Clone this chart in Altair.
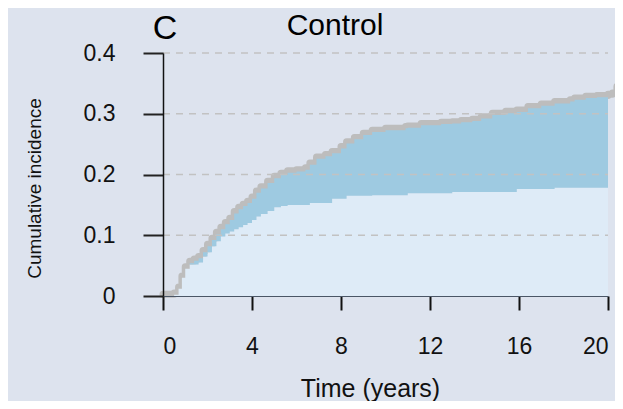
import altair as alt
import pandas as pd

# ---- data ----
times = [0.0, 0.5, 0.7, 0.85, 1.0, 1.2, 1.4, 1.6, 1.8, 2.0, 2.2, 2.4, 2.6, 2.8, 3.0,
         3.2, 3.4, 3.6, 3.8, 4.0, 4.2, 4.4, 4.7, 5.0, 5.3, 5.6, 6.0, 6.4, 6.6, 6.9,
         7.3, 7.6, 8.0, 8.25, 8.6, 9.0, 9.4, 10.0, 10.9, 11.0, 11.6, 12.5, 13.0, 13.4,
         13.9, 14.3, 14.8, 15.4, 15.9, 16.4, 17.0, 17.6, 18.3, 18.5, 19.0, 19.5, 20.0]
lower = [0.0, 0.002, 0.012, 0.030, 0.045, 0.052, 0.052, 0.055, 0.065, 0.072, 0.082, 0.090,
         0.098, 0.103, 0.106, 0.110, 0.113, 0.117, 0.120, 0.125, 0.131, 0.135, 0.140,
         0.146, 0.148, 0.150, 0.150, 0.150, 0.153, 0.153, 0.153, 0.160, 0.160, 0.165,
         0.165, 0.165, 0.166, 0.166, 0.166, 0.169, 0.169, 0.169, 0.171, 0.171, 0.171,
         0.171, 0.171, 0.171, 0.176, 0.176, 0.176, 0.178, 0.178, 0.178, 0.178, 0.178, 0.178]
total = [0.0, 0.002, 0.012, 0.030, 0.045, 0.054, 0.058, 0.062, 0.072, 0.082, 0.092, 0.102,
         0.110, 0.118, 0.125, 0.136, 0.143, 0.148, 0.153, 0.160, 0.170, 0.177, 0.186,
         0.194, 0.199, 0.203, 0.205, 0.208, 0.216, 0.226, 0.230, 0.235, 0.243, 0.251,
         0.258, 0.265, 0.270, 0.273, 0.276, 0.277, 0.281, 0.283, 0.284, 0.286, 0.288,
         0.292, 0.298, 0.301, 0.303, 0.309, 0.313, 0.317, 0.320, 0.323, 0.326, 0.327, 0.327]

# all-cause curve (grey line), continues slightly past 20 years
line_times = [0.0, 0.5, 0.7, 0.85, 1.0, 1.2, 1.4, 1.6, 1.8, 2.0, 2.2, 2.4, 2.6, 2.8, 3.0,
              3.2, 3.4, 3.6, 3.8, 4.0, 4.2, 4.4, 4.7, 5.0, 5.3, 5.6, 6.0, 6.4, 6.6, 6.9,
              7.3, 7.6, 8.0, 8.25, 8.6, 9.0, 9.4, 10.0, 10.9, 11.0, 11.6, 12.5, 13.0, 13.4,
              13.9, 14.3, 14.8, 15.4, 15.9, 16.4, 17.0, 17.6, 18.3, 18.5, 19.0, 19.5, 20.0,
              20.2, 20.4, 20.6]
line_vals = [0.003, 0.005, 0.015, 0.033, 0.048, 0.057, 0.061, 0.065, 0.075, 0.085, 0.095,
             0.105, 0.113, 0.121, 0.128, 0.139, 0.146, 0.151, 0.156, 0.163, 0.173, 0.180,
             0.189, 0.197, 0.202, 0.206, 0.208, 0.211, 0.219, 0.229, 0.233, 0.238, 0.246,
             0.254, 0.261, 0.268, 0.273, 0.276, 0.279, 0.280, 0.284, 0.286, 0.287, 0.289,
             0.291, 0.295, 0.301, 0.304, 0.306, 0.312, 0.316, 0.320, 0.323, 0.326, 0.329,
             0.330, 0.332, 0.334, 0.345, 0.357]

x_ticks = [0, 4, 8, 12, 16, 20]
y_ticks = [0, 0.1, 0.2, 0.3, 0.4]
grid_vals = [0.1, 0.2, 0.3, 0.4]

panel_letter = "C"
panel_title = "Control"
x_title = "Time (years)"
y_title = "Cumulative incidence"

BG = "#dde3ee"
FONT = "Liberation Sans"

df = pd.DataFrame({"t": times, "lower": lower, "total": total})
dline = pd.DataFrame({"t": line_times, "v": line_vals})
dgrid = pd.DataFrame({"g": grid_vals})

xscale = alt.Scale(domain=[0, 20], nice=False, zero=False)
yscale = alt.Scale(domain=[0, 0.4], nice=False)

xaxis = alt.Axis(
    values=x_ticks, title=x_title, grid=False,
    domainColor="#4a5666", domainWidth=1,
    tickColor="#111111", tickWidth=2, tickSize=14,
    labelFontSize=23, labelPadding=25, labelColor="#111111", labelFont=FONT,
    titleFontSize=25, titleFont=FONT, titleFontWeight="normal", titleColor="#111111",
    titleX=207, titleY=100, titleBaseline="alphabetic", titleAlign="center",
    zindex=1,
)
yaxis = alt.Axis(
    values=y_ticks, title=y_title, grid=False,
    labelExpr="datum.value == 0 ? '0' : format(datum.value, '.1f')",
    domainColor="#111111", domainWidth=1.5,
    tickColor="#222222", tickWidth=2, tickSize=20,
    labelFontSize=23, labelPadding=28, labelColor="#111111", labelFont=FONT,
    titleFontSize=19, titleFont=FONT, titleFontWeight="normal", titleColor="#111111",
    titleAngle=-90, titleX=-123, titleY=135, titleBaseline="alphabetic", titleAlign="center",
    zindex=1,
)

X = alt.X("t:Q", scale=xscale, axis=xaxis)

line = alt.Chart(dline).mark_line(
    interpolate="step-after", color="#bdbdbd", strokeWidth=7,
    strokeJoin="round", strokeCap="round", clip=False,
).encode(
    x=X,
    y=alt.Y("v:Q", scale=yscale, axis=yaxis),
)

light = alt.Chart(df).mark_area(interpolate="step-after", color="#deebf7", opacity=1).encode(
    x=X,
    y=alt.Y("lower:Q", scale=yscale, axis=yaxis),
)

dark = alt.Chart(df).mark_area(interpolate="step-after", color="#9ecae1", opacity=1).encode(
    x=X,
    y=alt.Y("total:Q", scale=yscale, axis=yaxis),
    y2="lower:Q",
)

grid = alt.Chart(dgrid).mark_rule(color="#c2c2c2", strokeWidth=1.5, strokeDash=[7, 6]).encode(
    y=alt.Y("g:Q", scale=yscale, axis=yaxis),
    x=alt.datum(0, scale=xscale, axis=xaxis),
    x2=alt.datum(20),
)

letter = alt.Chart(pd.DataFrame({"s": [panel_letter]})).mark_text(
    font=FONT, fontSize=34, color="#000000", align="center", baseline="alphabetic"
).encode(x=alt.value(2), y=alt.value(-14), text="s:N")

title = alt.Chart(pd.DataFrame({"s": [panel_title]})).mark_text(
    font=FONT, fontSize=30, color="#000000", align="center", baseline="alphabetic"
).encode(x=alt.value(172), y=alt.value(-18), text="s:N")

chart = alt.layer(line, light, dark, grid, letter, title).properties(
    width=445, height=243,
    background=BG,
    autosize=alt.AutoSizeParams(type="none"),
    padding={"left": 155, "top": 45, "right": 7, "bottom": 105},
).configure_view(stroke=None, fill=BG)

chart.save("out.html", embed_options={"renderer": "svg", "actions": False})
